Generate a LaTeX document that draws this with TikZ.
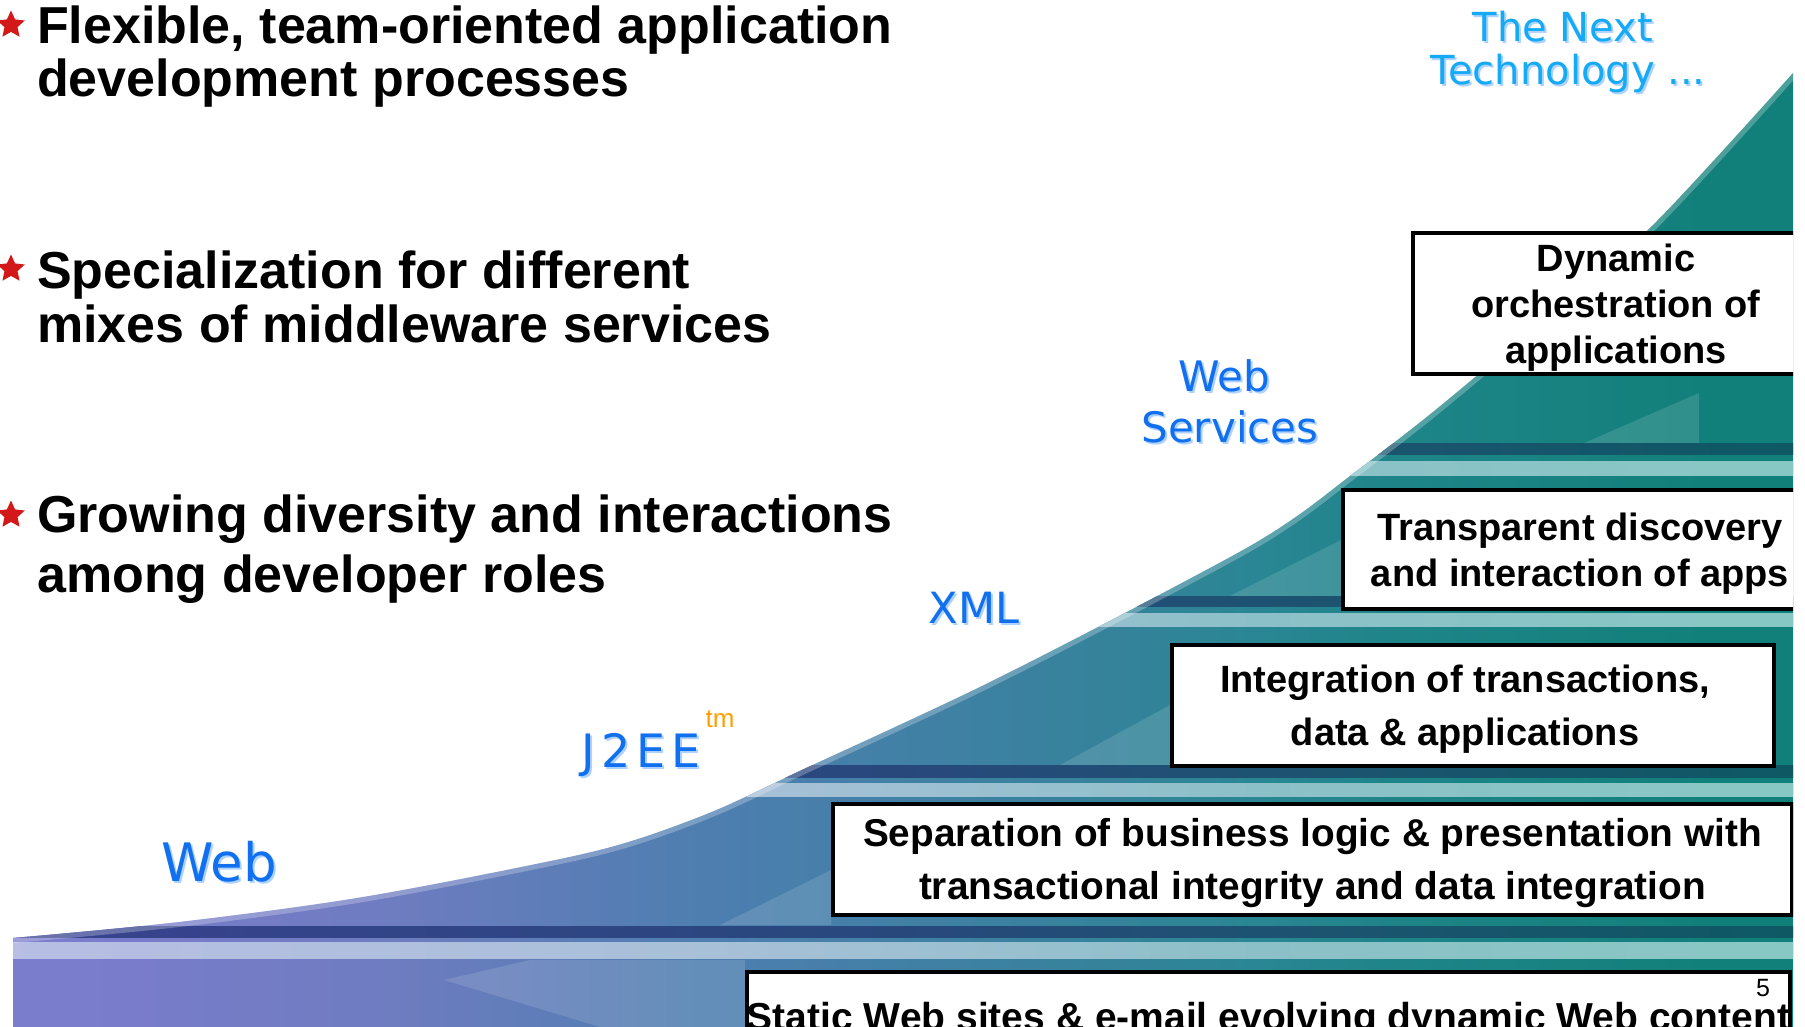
\documentclass[tikz,border=0pt]{standalone}
\usepackage{fontspec}
\setmainfont{Liberation Sans}
\newfontfamily\lblfont{DejaVu Sans}
\usetikzlibrary{shapes.geometric}

\definecolor{sA}{RGB}{122,124,204}
\definecolor{sB}{RGB}{110,124,192}
\definecolor{sC}{RGB}{78,126,176}
\definecolor{sD}{RGB}{66,128,166}
\definecolor{sE}{RGB}{54,130,155}
\definecolor{sF}{RGB}{42,134,148}
\definecolor{sG}{RGB}{30,132,136}
\definecolor{sH}{RGB}{18,128,122}
\definecolor{dA}{RGB}{58,66,144}
\definecolor{dB}{RGB}{40,72,124}
\definecolor{dC}{RGB}{28,84,112}
\definecolor{dD}{RGB}{14,88,100}
\definecolor{lA}{RGB}{184,190,228}
\definecolor{lB}{RGB}{168,192,216}
\definecolor{lC}{RGB}{140,192,200}
\definecolor{lD}{RGB}{136,200,196}
\definecolor{lblblue}{RGB}{16,112,240}
\definecolor{lblshadow}{RGB}{120,180,255}
\definecolor{nextblue}{RGB}{20,170,245}
\definecolor{tmorange}{RGB}{255,160,0}
\definecolor{starred}{RGB}{210,24,24}

\pgfdeclarehorizontalshading{stairshade}{100bp}{color(0bp)=(sA); color(27.5bp)=(sA); color(36bp)=(sB); color(44.5bp)=(sC); color(50bp)=(sD); color(55.5bp)=(sE); color(60bp)=(sF); color(64bp)=(sG); color(72.5bp)=(sH); color(100bp)=(sH)}
\pgfdeclarehorizontalshading{darkshade}{100bp}{color(0bp)=(dA); color(25bp)=(dA); color(50bp)=(dB); color(62bp)=(dC); color(75bp)=(dD); color(100bp)=(dD)}
\pgfdeclarehorizontalshading{lightshade}{100bp}{color(0bp)=(lA); color(25bp)=(lA); color(45bp)=(lB); color(60bp)=(lC); color(75bp)=(lD); color(100bp)=(lD)}

\tikzset{
  stepbox/.style={draw=black, line width=4pt, fill=white, inner sep=0pt, anchor=north west},
  boxtext/.style={inner sep=0pt, align=center},
  bullettext/.style={font=\fontsize{52}{52}\selectfont\bfseries, inner sep=0pt, anchor=base west},
  bstar/.style={star, star points=5, star point ratio=2.1, fill=starred, draw=none, minimum size=29pt, inner sep=0pt},
  techlbl/.style={text=lblblue, inner sep=0pt, anchor=base},
  techshadow/.style={text=lblshadow, text opacity=0.6, inner sep=0pt, anchor=base},
  hilite/.style={fill=white, fill opacity=0.13, draw=none},
  darkband/.style={shading=darkshade},
  lightband/.style={shading=lightshade}
}

\begin{document}
\begin{tikzpicture}[x=1pt,y=-1pt]
\useasboundingbox (0,0) rectangle (1805,1027);
\fill[white] (0,0) rectangle (1805,1027);

\begin{scope}
\clip (0,0) rectangle (1793,1027);
 \begin{scope}
  \clip (13,1040) -- plot[smooth, tension=0.55] coordinates {(13,938) (179,922) (357,898) (536,864) (625,843) (714,811) (804,769) (893,728) (982,686) (1071,641) (1161,594) (1250,546) (1300,514) (1350,476) (1400,438) (1450,398) (1550,314) (1653,225) (1793,73)} -- (1800,73) -- (1800,1040) -- cycle;
  \shade[shading=stairshade] (0,0) rectangle (1793,1027);
  % highlights
  \fill[hilite] (1575,447) -- (1699,393) -- (1699,447) -- cycle;
  \fill[hilite] (1230,596) -- (1341,540) -- (1341,596) -- cycle;
  \fill[hilite] (1060,765) -- (1170,705) -- (1170,765) -- cycle;
  \fill[hilite] (720,925) -- (831,870) -- (831,925) -- cycle;
  \fill[hilite] (444,980) -- (530,960) -- (745,960) -- (745,1027) -- (600,1027) -- cycle;
  % step bands
  \shade[darkband] (0,443) rectangle (1793,454);
  \shade[lightband] (0,461) rectangle (1793,475);
  \shade[darkband] (0,596) rectangle (1793,606);
  \shade[lightband] (0,613) rectangle (1793,626);
  \shade[darkband] (0,765) rectangle (1793,777);
  \shade[lightband] (0,783) rectangle (1793,796);
  \shade[darkband] (0,926) rectangle (1793,937);
  \shade[lightband] (0,942) rectangle (1793,958);
  % light rim along the edge
  \draw[white, opacity=0.25, line width=10pt] plot[smooth, tension=0.55] coordinates {(13,938) (179,922) (357,898) (536,864) (625,843) (714,811) (804,769) (893,728) (982,686) (1071,641) (1161,594) (1250,546) (1300,514) (1350,476) (1400,438) (1450,398) (1550,314) (1653,225) (1793,73)};
 \end{scope}

 % boxes
 \node[stepbox, minimum width=406pt, minimum height=141pt] (dyn) at (1411,231) {};
 \node[boxtext, font=\fontsize{38}{46}\selectfont\bfseries] (dynT) at ([yshift=-4pt]dyn.center) {Dynamic\\orchestration of\\applications};
 \node[stepbox, minimum width=474pt, minimum height=119pt] (trans) at (1341,488) {};
 \node[boxtext, font=\fontsize{38}{46}\selectfont\bfseries] (transT) at ([yshift=-4pt]trans.center) {Transparent discovery\\and interaction of apps};
 \node[stepbox, minimum width=602pt, minimum height=121pt] (integ) at (1170,643) {};
 \node[boxtext, font=\fontsize{38}{53}\selectfont\bfseries] (integT) at ([yshift=-4pt, xshift=-8pt]integ.center) {Integration of transactions,\\data \& applications};
 \node[stepbox, minimum width=959pt, minimum height=111pt] (sep) at (831,802) {};
 \node[boxtext, font=\fontsize{38.8}{53}\selectfont\bfseries] (sepT) at ([yshift=-4pt]sep.center) {Separation of business logic \& presentation with\\transactional integrity and data integration};
 \node[stepbox, minimum width=1043pt, minimum height=96pt] (static) at (745,970) {};
 \node[boxtext, font=\fontsize{39}{46}\selectfont\bfseries] (staticT) at (static.center) {Static Web sites \& e-mail evolving dynamic Web content};
 \node[inner sep=0pt, font=\fontsize{25}{25}\selectfont] (pnum) at (1763,988) {5};
\end{scope}

% bullets
\node[bstar] (s1) at (11,25) {};
\node[bstar] (s2) at (11,269) {};
\node[bstar] (s3) at (11,515) {};
\node[bullettext] (b1a) at (37,44) {Flexible, team-oriented application};
\node[bullettext] (b1b) at (37,97) {development processes};
\node[bullettext] (b2a) at (37,288) {Specialization for different};
\node[bullettext] (b2b) at (37,342) {mixes of middleware services};
\node[bullettext] (b3a) at (37,532) {Growing diversity and interactions};
\node[bullettext] (b3b) at (37,592) {among developer roles};

% technology labels (with soft shadow)
\node[techshadow, font=\lblfont\fontsize{40}{40}\selectfont] (next1s) at (1565,44) {The Next};
\node[techlbl, text=nextblue, font=\lblfont\fontsize{40}{40}\selectfont] (next1) at (1563,42) {The Next};
\node[techshadow, font=\lblfont\fontsize{40}{40}\selectfont] (next2s) at (1570,87) {Technology ...};
\node[techlbl, text=nextblue, font=\lblfont\fontsize{40}{40}\selectfont] (next2) at (1568,85) {Technology ...};

\node[techshadow, font=\lblfont\fontsize{42}{42}\selectfont] (ws1s) at (1226,393) {Web};
\node[techlbl, font=\lblfont\fontsize{42}{42}\selectfont] (ws1) at (1224,391) {Web};
\node[techshadow, font=\lblfont\fontsize{42}{42}\selectfont] (ws2s) at (1232,444) {Services};
\node[techlbl, font=\lblfont\fontsize{42}{42}\selectfont] (ws2) at (1230,442) {Services};

\node[techshadow, font=\lblfont\fontsize{43}{43}\selectfont] (xmls) at (976,625) {XML};
\node[techlbl, font=\lblfont\fontsize{43}{43}\selectfont] (xml) at (974,623) {XML};

\node[techshadow, font=\lblfont\fontsize{46}{46}\selectfont] (j2ees) at (643,769) {J\kern6pt 2\kern6pt E\kern6pt E};
\node[techlbl, font=\lblfont\fontsize{46}{46}\selectfont] (j2ee) at (641,767) {J\kern6pt 2\kern6pt E\kern6pt E};
\node[techlbl, text=tmorange, font=\fontsize{26}{26}\selectfont] (tm) at (720,727) {tm};

\node[techshadow, font=\lblfont\fontsize{53}{53}\selectfont] (webs) at (221,883) {Web};
\node[techlbl, font=\lblfont\fontsize{53}{53}\selectfont] (web) at (219,881) {Web};
\end{tikzpicture}
\end{document}
